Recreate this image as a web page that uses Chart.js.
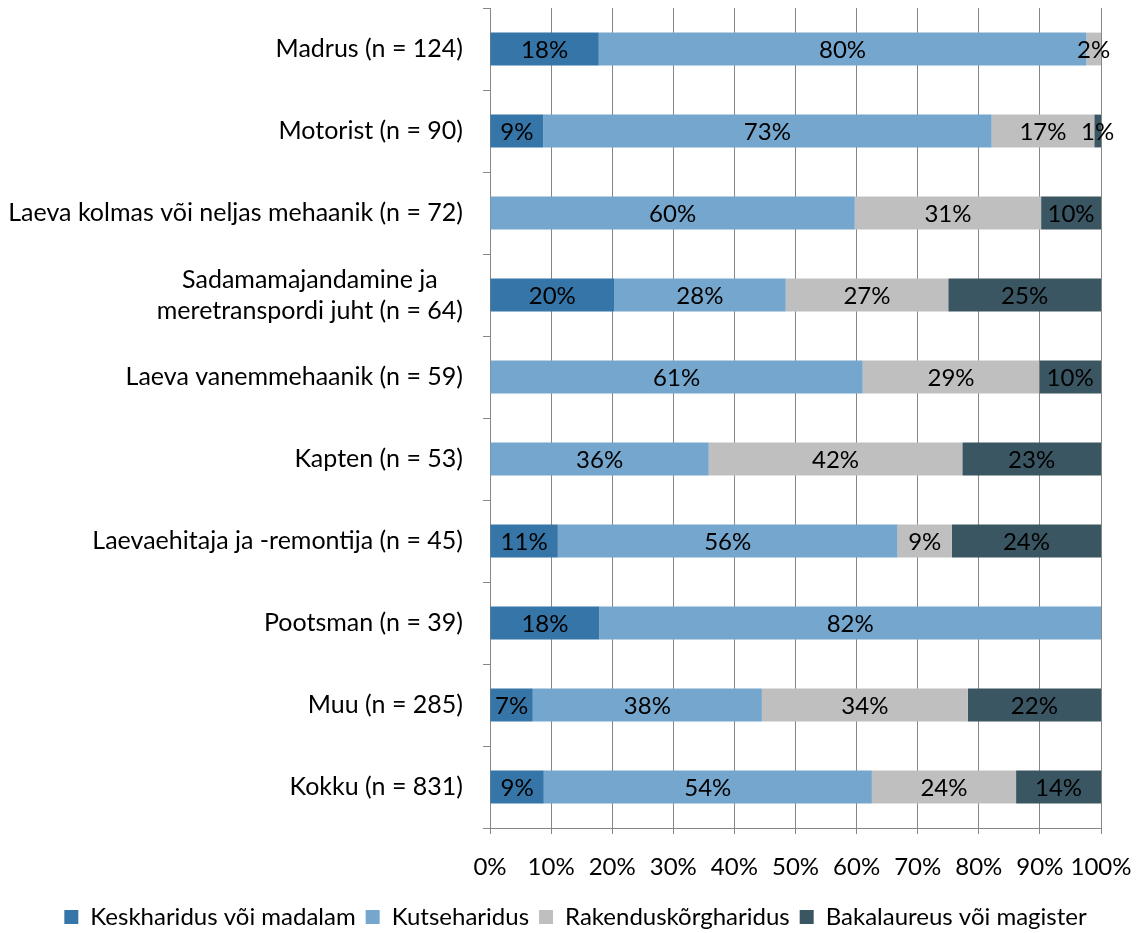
<!DOCTYPE html>
<html>
<head>
<meta charset="utf-8">
<script src="https://cdn.jsdelivr.net/npm/chart.js@4/dist/chart.umd.min.js"></script>
<style>
  html, body { margin: 0; padding: 0; background: #fff; }
  #wrap { width: 1137px; height: 933px; position: relative; }
</style>
</head>
<body>
<div id="wrap"><canvas id="eduChart"></canvas></div>
<script>
// kategooriad (ülevalt alla)
const categories = [
  "Madrus (n = 124)",
  "Motorist (n = 90)",
  "Laeva kolmas või neljas mehaanik (n = 72)",
  ["Sadamamajandamine ja", "meretranspordi juht (n = 64)"],
  "Laeva vanemmehaanik (n = 59)",
  "Kapten (n = 53)",
  "Laevaehitaja ja -remontija (n = 45)",
  "Pootsman (n = 39)",
  "Muu (n = 285)",
  "Kokku (n = 831)",
];

// osakaalud protsentides
const keskharidus = [17.8, 8.7, 0, 20.3, 0, 0, 11.1, 17.9, 7.0, 8.8];
const kutseharidus = [79.8, 73.4, 59.7, 28.1, 61.0, 35.8, 55.6, 82.1, 37.5, 53.7];
const rakendus = [2.4, 16.8, 30.5, 26.6, 28.9, 41.5, 8.9, 0, 33.7, 23.6];
const bakalaureus = [0, 1.1, 9.8, 25.0, 10.1, 22.7, 24.4, 0, 21.8, 13.9];

const xTicks = [0, 10, 20, 30, 40, 50, 60, 70, 80, 90, 100];

const FONT = "Lato";
const gridColor = "#868686";
const padLeft = 50; // legendi nihutamiseks paremale

// y-telje sildid: mitmerealine silt keskele joondatud, plokk paremale
const yLabelPlugin = {
  id: "yLabels",
  afterDraw(chart) {
    const y = chart.scales.y;
    const ctx = chart.ctx;
    ctx.save();
    ctx.font = "25px " + FONT;
    ctx.fillStyle = "#000";
    ctx.textAlign = "center";
    ctx.textBaseline = "middle";
    const right = y.right - 27;
    const lh = 31;
    categories.forEach((lab, i) => {
      const lines = Array.isArray(lab) ? lab : [lab];
      const w = Math.max(...lines.map((l) => ctx.measureText(l).width));
      const cx = right - w / 2;
      const yc = y.getPixelForTick(i);
      lines.forEach((l, j) => {
        ctx.fillText(l, cx, yc + (j - (lines.length - 1) / 2) * lh);
      });
    });
    ctx.restore();
  },
};

// väärtused tulpade sisse
const barLabelPlugin = {
  id: "barLabels",
  afterDatasetsDraw(chart) {
    const ctx = chart.ctx;
    ctx.save();
    ctx.font = "24px " + FONT;
    ctx.fillStyle = "#000";
    ctx.textAlign = "center";
    ctx.textBaseline = "middle";
    chart.data.datasets.forEach((ds, i) => {
      const meta = chart.getDatasetMeta(i);
      meta.data.forEach((bar, j) => {
        const v = ds.data[j];
        if (!v) return;
        const p = bar.getCenterPoint();
        ctx.fillText(Math.round(v) + "%", p.x, p.y + 1);
      });
    });
    ctx.restore();
  },
};

const ctx = document.getElementById("eduChart").getContext("2d");

new Chart(ctx, {
  type: "bar",
  data: {
    labels: categories,
    datasets: [
      { label: "Keskharidus või madalam", data: keskharidus, backgroundColor: "#3575A7" },
      { label: "Kutseharidus", data: kutseharidus, backgroundColor: "#75A6CD" },
      { label: "Rakenduskõrgharidus", data: rakendus, backgroundColor: "#BFBFBF" },
      { label: "Bakalaureus või magister", data: bakalaureus, backgroundColor: "#3A5663" },
    ],
  },
  options: {
    indexAxis: "y",
    responsive: true,
    maintainAspectRatio: false,
    animation: false,
    layout: {
      padding: { top: 8, right: 36, left: padLeft, bottom: -6 },
    },
    datasets: {
      bar: { categoryPercentage: 1, barPercentage: 0.4, borderWidth: 0 },
    },
    scales: {
      x: {
        stacked: true,
        min: 0,
        max: 100,
        afterBuildTicks: (scale) => {
          scale.ticks = xTicks.map((v) => ({ value: v }));
        },
        afterFit: (scale) => {
          scale.height = 67;
          scale.paddingLeft = 0;
          scale.paddingRight = 0;
        },
        ticks: {
          color: "#000",
          font: { family: FONT, size: 24 },
          padding: 19,
          maxRotation: 0,
          autoSkip: false,
          callback: (v) => v + "%",
        },
        grid: { color: gridColor, lineWidth: 1, tickLength: 6 },
        border: { color: gridColor, width: 1 },
      },
      y: {
        stacked: true,
        afterFit: (scale) => {
          scale.width = 490 - padLeft;
        },
        ticks: { display: false },
        grid: {
          offset: true,
          drawOnChartArea: false,
          color: gridColor,
          tickLength: 7,
        },
        border: { color: gridColor, width: 1 },
      },
    },
    plugins: {
      legend: {
        position: "bottom",
        labels: {
          boxWidth: 14,
          boxHeight: 14,
          padding: 10,
          color: "#000",
          font: { family: FONT, size: 24 },
        },
      },
      tooltip: { enabled: false },
    },
  },
  plugins: [yLabelPlugin, barLabelPlugin],
});
</script>
</body>
</html>
